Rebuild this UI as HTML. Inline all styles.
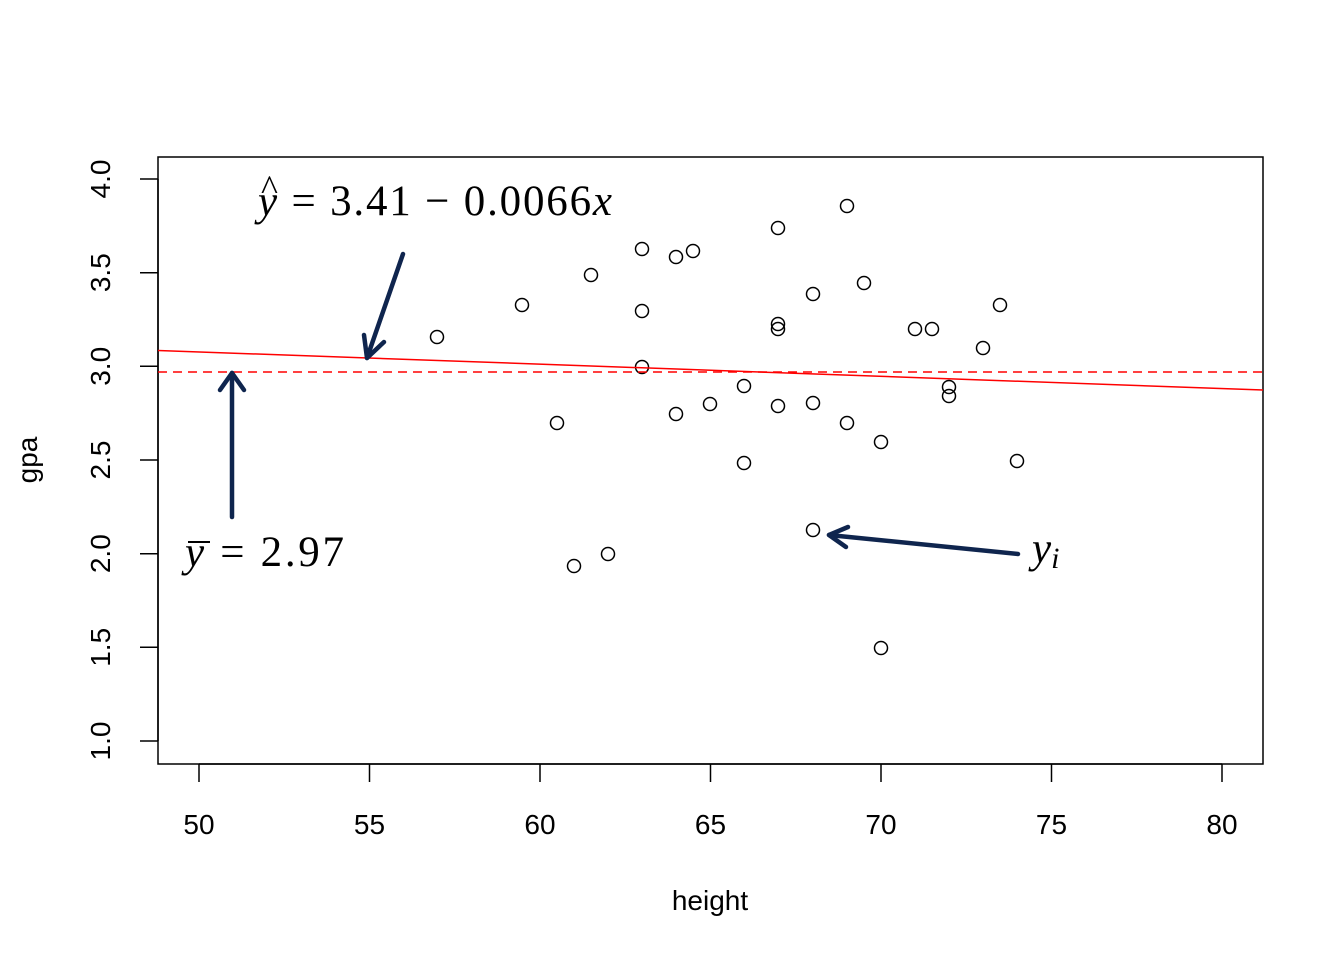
<!DOCTYPE html>
<html><head><meta charset="utf-8"><style>
html,body{margin:0;padding:0;background:#fff;}
svg{display:block;}
</style></head><body>
<svg width="1344" height="960" xmlns="http://www.w3.org/2000/svg">
<rect width="1344" height="960" fill="#fff"/>
<rect x="158" y="157" width="1105" height="607" fill="none" stroke="#000" stroke-width="1.5"/>
<g stroke="#000" stroke-width="1.5">
<line x1="199" y1="764" x2="1222" y2="764"/>
<line x1="199" y1="764" x2="199" y2="782"/><line x1="369.5" y1="764" x2="369.5" y2="782"/>
<line x1="540" y1="764" x2="540" y2="782"/><line x1="710.5" y1="764" x2="710.5" y2="782"/>
<line x1="881" y1="764" x2="881" y2="782"/><line x1="1051.5" y1="764" x2="1051.5" y2="782"/>
<line x1="1222" y1="764" x2="1222" y2="782"/>
<line x1="158" y1="179" x2="158" y2="741"/>
<line x1="140" y1="179" x2="158" y2="179"/><line x1="140" y1="272.7" x2="158" y2="272.7"/>
<line x1="140" y1="366.3" x2="158" y2="366.3"/><line x1="140" y1="460" x2="158" y2="460"/>
<line x1="140" y1="553.7" x2="158" y2="553.7"/><line x1="140" y1="647.3" x2="158" y2="647.3"/>
<line x1="140" y1="741" x2="158" y2="741"/>
</g>
<g font-family="Liberation Sans, sans-serif" font-size="28" text-anchor="middle" fill="#000">
<text x="199" y="834">50</text><text x="369.5" y="834">55</text><text x="540" y="834">60</text>
<text x="710.5" y="834">65</text><text x="881" y="834">70</text><text x="1051.5" y="834">75</text>
<text x="1222" y="834">80</text>
<text x="710" y="910">height</text>
<g transform="rotate(-90)">
<text x="-179" y="110">4.0</text><text x="-272.7" y="110">3.5</text><text x="-366.3" y="110">3.0</text>
<text x="-460" y="110">2.5</text><text x="-553.7" y="110">2.0</text><text x="-647.3" y="110">1.5</text>
<text x="-741" y="110">1.0</text>
<text x="-460" y="37">gpa</text>
</g>
</g>
<g fill="none" stroke="#000" stroke-width="1.5">
<circle cx="437" cy="337" r="6.5"/><circle cx="522" cy="305" r="6.5"/><circle cx="591" cy="275" r="6.5"/>
<circle cx="642" cy="249" r="6.5"/><circle cx="676" cy="257" r="6.5"/><circle cx="693" cy="251" r="6.5"/>
<circle cx="642" cy="311" r="6.5"/><circle cx="642" cy="367" r="6.5"/><circle cx="557" cy="423" r="6.5"/>
<circle cx="574" cy="566" r="6.5"/><circle cx="608" cy="554" r="6.5"/><circle cx="676" cy="414" r="6.5"/>
<circle cx="710" cy="404" r="6.5"/><circle cx="744" cy="386" r="6.5"/><circle cx="744" cy="463" r="6.5"/>
<circle cx="778" cy="228" r="6.5"/><circle cx="778" cy="324" r="6.5"/><circle cx="778" cy="329" r="6.5"/>
<circle cx="778" cy="406" r="6.5"/><circle cx="813" cy="294" r="6.5"/><circle cx="813" cy="403" r="6.5"/>
<circle cx="813" cy="530" r="6.5"/><circle cx="847" cy="206" r="6.5"/><circle cx="864" cy="283" r="6.5"/>
<circle cx="847" cy="423" r="6.5"/><circle cx="881" cy="442" r="6.5"/><circle cx="881" cy="648" r="6.5"/>
<circle cx="915" cy="329" r="6.5"/><circle cx="932" cy="329" r="6.5"/><circle cx="949" cy="387" r="6.5"/>
<circle cx="949" cy="396" r="6.5"/><circle cx="983" cy="348" r="6.5"/><circle cx="1000" cy="305" r="6.5"/>
<circle cx="1017" cy="461" r="6.5"/>
</g>
<line x1="158" y1="350.5" x2="1263" y2="390" stroke="#f00" stroke-width="1.5"/>
<line x1="158" y1="372" x2="1263" y2="372" stroke="#f00" stroke-width="1.5" stroke-dasharray="9,6"/>
<g stroke="#0F254E" stroke-width="4.5" fill="none" stroke-linecap="round" stroke-linejoin="round">
<line x1="403" y1="254" x2="367" y2="358"/><polyline points="364,335 367,358 384,342"/>
<line x1="232" y1="517" x2="232" y2="373"/><polyline points="220,390 232,373 244,390"/>
<line x1="1018" y1="554" x2="829" y2="535"/><polyline points="848,527 829,535 846,547"/>
</g>
<g font-family="Liberation Serif, serif" font-size="43" fill="#000">
<text x="258" y="215" textLength="354" lengthAdjust="spacing"><tspan font-style="italic">y</tspan> = 3.41 − 0.0066<tspan font-style="italic">x</tspan></text>
<text x="261" y="200" font-size="36">^</text>
<text x="185" y="566" textLength="159" lengthAdjust="spacing"><tspan font-style="italic">y</tspan> = 2.97</text>
<line x1="188" y1="542" x2="210" y2="542" stroke="#000" stroke-width="2"/>
<text x="1032" y="562" font-style="italic">y<tspan font-size="30" dy="6">i</tspan></text>
</g>
</svg>
</body></html>
